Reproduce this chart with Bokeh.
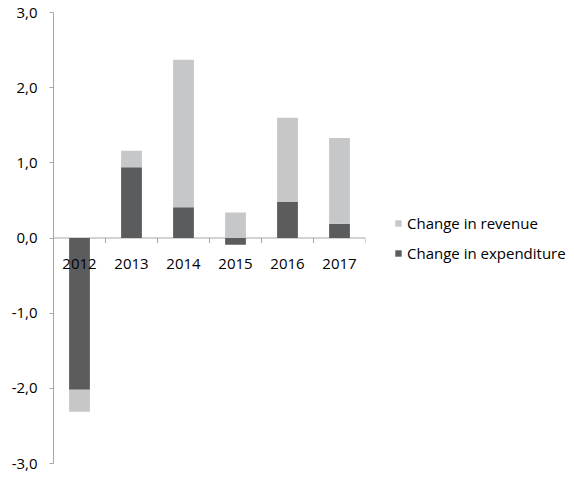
import numpy as np
from bokeh.plotting import figure
from bokeh.models import (ColumnDataSource, FactorRange, Range1d, FixedTicker, Span,
                          Legend, LegendItem)
from bokeh.transform import dodge
from bokeh.core.properties import value
from bokeh.embed import file_html
from bokeh.resources import INLINE

years = ["2012", "2013", "2014", "2015", "2016", "2017"]
change_expenditure = [-2.02, 0.94, 0.41, -0.09, 0.48, 0.19]
change_revenue = [-0.29, 0.22, 1.96, 0.34, 1.12, 1.14]
y_ticks = [-3, -2, -1, 0, 1, 2, 3]

FONT = "Open Sans"
C_EXP = "#5b5c5e"
C_REV = "#c6c7c9"
C_AXIS = "#a6a6a6"
C_TEXT = "#000000"

exp = np.array(change_expenditure)
rev = np.array(change_revenue)
# Excel-style stacking: positives stack upward from 0, negatives downward
rev_bottom = np.where(np.sign(rev) == np.sign(exp), exp, 0.0)
rev_top = rev_bottom + rev

src = ColumnDataSource(dict(year=years, exp=exp, zero=np.zeros(len(years)),
                            rev_bottom=rev_bottom, rev_top=rev_top))

p = figure(x_range=FactorRange(*years), y_range=Range1d(-3, 3),
           frame_width=312, frame_height=451,
           min_border_left=53, min_border_top=12, min_border_bottom=8,
           min_border_right=200,
           x_axis_location=None, y_axis_location="left",
           output_backend="svg", toolbar_location=None, tools="")
p.outline_line_color = None
p.grid.visible = False
p.background_fill_color = "white"
p.border_fill_color = "white"

zero_line = Span(location=0, dimension="width", line_color=C_AXIS, line_width=1,
                 level="underlay")
p.add_layout(zero_line)

r_exp = p.vbar(x="year", width=0.4, bottom="zero", top="exp", source=src,
               fill_color=C_EXP, line_color=None)
r_rev = p.vbar(x="year", width=0.4, bottom="rev_bottom", top="rev_top", source=src,
               fill_color=C_REV, line_color=None)

# category boundary ticks on the zero line
p.ray(x=dodge("year", 0.5, range=p.x_range), y=0, length=5, length_units="screen",
      angle=-np.pi / 2, source=src, line_color=C_AXIS, line_width=1)

# category labels beneath the zero line
p.text(x="year", y=0, text="year", source=src, y_offset=26,
       text_align="center", text_baseline="middle",
       text_font=value(FONT), text_font_size="15px", text_color=C_TEXT)

ax = p.yaxis[0]
ax.ticker = FixedTicker(ticks=y_ticks)
ax.major_label_overrides = {t: f"{t:.1f}".replace(".", ",") for t in y_ticks}
ax.axis_line_color = C_AXIS
ax.major_tick_line_color = C_AXIS
ax.major_tick_in = 0
ax.major_tick_out = 4
ax.minor_tick_line_color = None
ax.major_label_standoff = 12
ax.major_label_text_font = FONT
ax.major_label_text_font_size = "15px"
ax.major_label_text_color = C_TEXT

legend = Legend(items=[LegendItem(label="Change in revenue", renderers=[r_rev]),
                       LegendItem(label="Change in expenditure", renderers=[r_exp])],
                location=(29, 200), margin=0, padding=0, spacing=10,
                glyph_width=8, glyph_height=8, label_height=20,
                label_standoff=5,
                label_text_font=FONT, label_text_font_size="15px",
                label_text_color=C_TEXT,
                border_line_alpha=0, background_fill_alpha=0)
p.add_layout(legend, "right")

open("out.html", "w").write(file_html(p, INLINE))
